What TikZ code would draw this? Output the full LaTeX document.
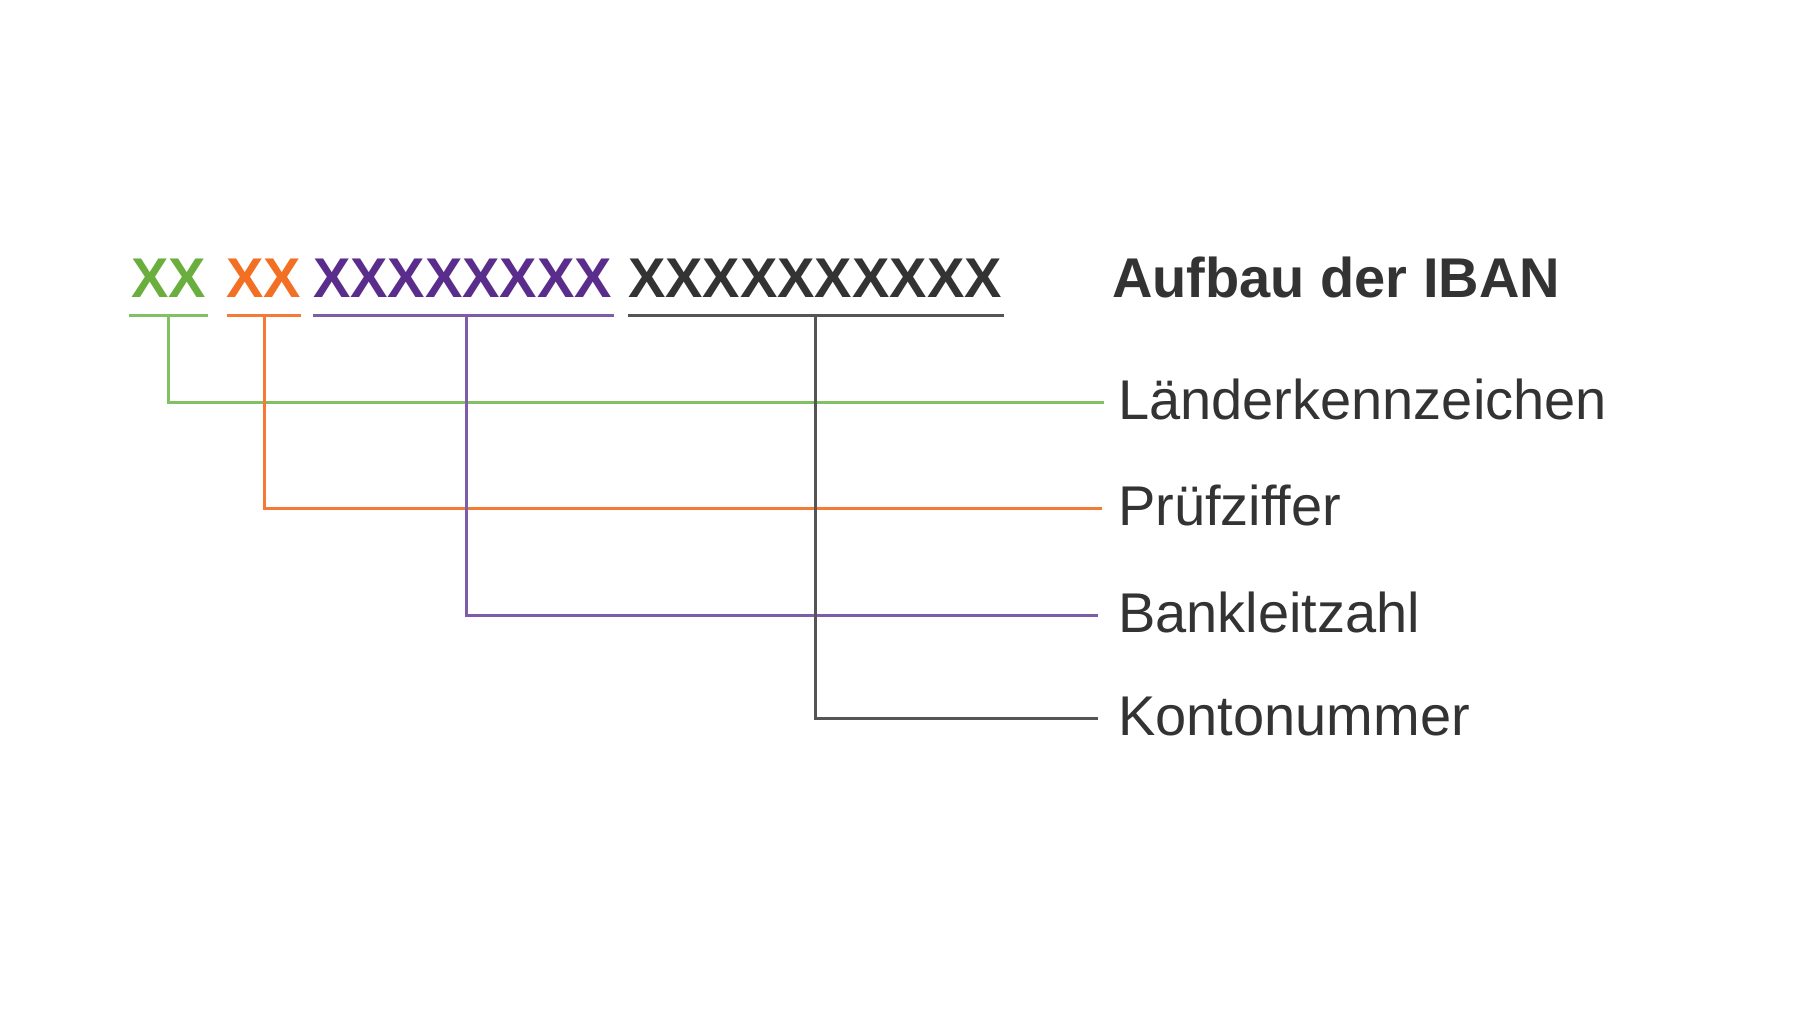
\documentclass[tikz,border=0pt]{standalone}
\usepackage{fontspec}
\setmainfont{Liberation Sans}
\usetikzlibrary{calc}
\definecolor{cgreen}{HTML}{6AAF3D}
\definecolor{corange}{HTML}{F26F24}
\definecolor{cpurple}{HTML}{5A2D8C}
\definecolor{cdark}{HTML}{333333}
\definecolor{lgreen}{HTML}{82C163}
\definecolor{lorange}{HTML}{F47A35}
\definecolor{lpurple}{HTML}{7F5CA8}
\definecolor{ldark}{HTML}{555555}
\tikzset{
  code/.style={anchor=base west, inner sep=0pt, font=\fontsize{56}{64}\selectfont\bfseries},
  title/.style={anchor=base west, inner sep=0pt, text=cdark, font=\fontsize{56}{64}\selectfont\bfseries},
  lbl/.style={anchor=base west, inner sep=0pt, text=cdark, font=\fontsize{56}{64}\selectfont},
  link/.style={line width=3pt},
}
\begin{document}
\begin{tikzpicture}[x=1pt,y=-1pt]
\useasboundingbox[fill=white] (0,0) rectangle (1820,1024);
% code groups
\node[code, text=cgreen]  (g1) at (131,298) {XX};
\node[code, text=corange] (g2) at (226,298) {XX};
\node[code, text=cpurple] (g3) at (313,298) {XXXXXXXX};
\node[code, text=cdark]   (g4) at (628,298) {XXXXXXXXXX};
\node[title] (t) at (1112,298) {Aufbau der IBAN};
% labels
\node[lbl] (l1) at (1118,419) {Länderkennzeichen};
\node[lbl] (l2) at (1118,525) {Prüfziffer};
\node[lbl] (l3) at (1118,632) {Bankleitzahl};
\node[lbl] (l4) at (1118,735) {Kontonummer};
% underlines
\draw[link, lgreen]  ($(g1.base west)+(-2,17)$) -- ($(g1.base east)+(2,17)$);
\draw[link, lorange] ($(g2.base west)+(1,17)$) -- ($(g2.base east)+(0,17)$);
\draw[link, lpurple] ($(g3.base west)+(0,17)$) -- ($(g3.base east)+(2,17)$);
\draw[link, ldark]   ($(g4.base west)+(0,17)$) -- ($(g4.base east)+(2,17)$);
\coordinate (u1) at ($(g1.base)+(0,17)$);
\coordinate (u2) at ($(g2.base)+(1,17)$);
\coordinate (u3) at ($(g3.base)+(4,17)$);
\coordinate (u4) at ($(g4.base)+(1,17)$);
\coordinate (e1) at ($(l1.base west)+(-14,-17)$);
\coordinate (e2) at ($(l2.base west)+(-16,-17)$);
\coordinate (e3) at ($(l3.base west)+(-20,-17)$);
\coordinate (e4) at ($(l4.base west)+(-20,-17)$);
% connectors
\draw[link, lgreen]  (u1) |- (e1);
\draw[link, lorange] (u2) |- (e2);
\draw[link, lpurple] (u3) |- (e3);
\draw[link, ldark]   (u4) |- (e4);
\end{tikzpicture}
\end{document}
